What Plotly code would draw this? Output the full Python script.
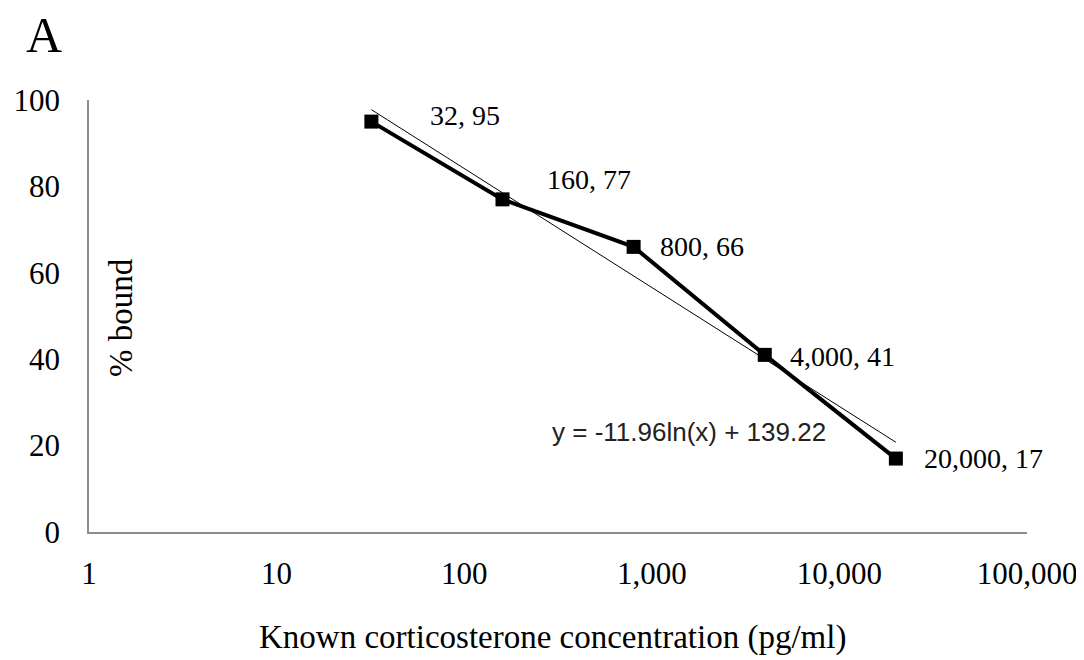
import math
import plotly.graph_objects as go

# Data
concentration = [32, 160, 800, 4000, 20000]
pct_bound = [95, 77, 66, 41, 17]
point_labels = ["32, 95", "160, 77", "800, 66", "4,000, 41", "20,000, 17"]
x_tick_vals = [1, 10, 100, 1000, 10000, 100000]
x_tick_text = ["1", "10", "100", "1,000", "10,000", "100,000"]
y_tick_vals = [0, 20, 40, 60, 80, 100]
trend_slope = -11.96
trend_intercept = 139.22
trend_label = "y = -11.96ln(x) + 139.22"

# label offsets (pixels), style only
label_dx = [57, 43, 24, 23, 26]
label_dy = [6, 20, 0, -2, 0]

SERIF = "Liberation Serif"
fig = go.Figure()

fig.add_trace(go.Scatter(
    x=concentration, y=pct_bound, mode="lines+markers",
    line=dict(color="black", width=4),
    marker=dict(symbol="square", size=14, color="black"),
    showlegend=False, hoverinfo="x+y"))

trend_x = [min(concentration), max(concentration)]
trend_y = [trend_slope * math.log(v) + trend_intercept for v in trend_x]
fig.add_trace(go.Scatter(
    x=trend_x, y=trend_y, mode="lines",
    line=dict(color="black", width=1), showlegend=False, hoverinfo="skip"))

# page offset due to default body margin
OFF = 8
annotations = []
for xv, yv, txt, dx, dy in zip(concentration, pct_bound, point_labels, label_dx, label_dy):
    annotations.append(dict(x=math.log10(xv), y=yv, xref="x", yref="y", text=txt,
                            showarrow=False, xanchor="left", yanchor="middle",
                            xshift=dx, yshift=dy,
                            font=dict(family=SERIF, size=28, color="black")))

pix_annots = [
    dict(x=689, y=432, text=trend_label, textangle=0,
         font=dict(family="Liberation Sans", size=26, color="#222")),
    dict(x=121, y=318, text="% bound", textangle=-90,
         font=dict(family=SERIF, size=33, color="black")),
    dict(x=552, y=637, text="Known corticosterone concentration (pg/ml)", textangle=0,
         font=dict(family=SERIF, size=33, color="black")),
    dict(x=44, y=35, text="A", textangle=0,
         font=dict(family=SERIF, size=50, color="black")),
]

W, H = 1076, 652
L, T = 89 - OFF, 100 - OFF
R = W - (1027 - OFF)
B = H - (532 - OFF)
pw, ph = W - L - R, H - T - B
for a in pix_annots:
    a.update(xref="paper", yref="paper", showarrow=False, xanchor="center", yanchor="middle")
    a["x"] = (a["x"] - OFF - L) / pw
    a["y"] = 1 - (a["y"] - OFF - T) / ph
    annotations.append(a)

fig.update_layout(
    width=W, height=H,
    margin=dict(l=L, r=R, t=T, b=B, autoexpand=False),
    paper_bgcolor="white", plot_bgcolor="white",
    annotations=annotations,
    xaxis=dict(type="log", range=[0, 5], tickvals=x_tick_vals, ticktext=x_tick_text,
               showgrid=False, zeroline=False, showline=True, linecolor="#8c8c8c",
               linewidth=1.5, ticks="", ticklabelstandoff=13, automargin=False,
               ticklabeloverflow="allow",
               tickfont=dict(family=SERIF, size=31, color="black")),
    yaxis=dict(range=[0, 100], tickvals=y_tick_vals, showgrid=False, zeroline=False,
               showline=True, linecolor="#8c8c8c", linewidth=1.5, ticks="",
               ticklabelstandoff=21, automargin=False,
               tickfont=dict(family=SERIF, size=31, color="black")),
)

fig.write_html("out.html")
